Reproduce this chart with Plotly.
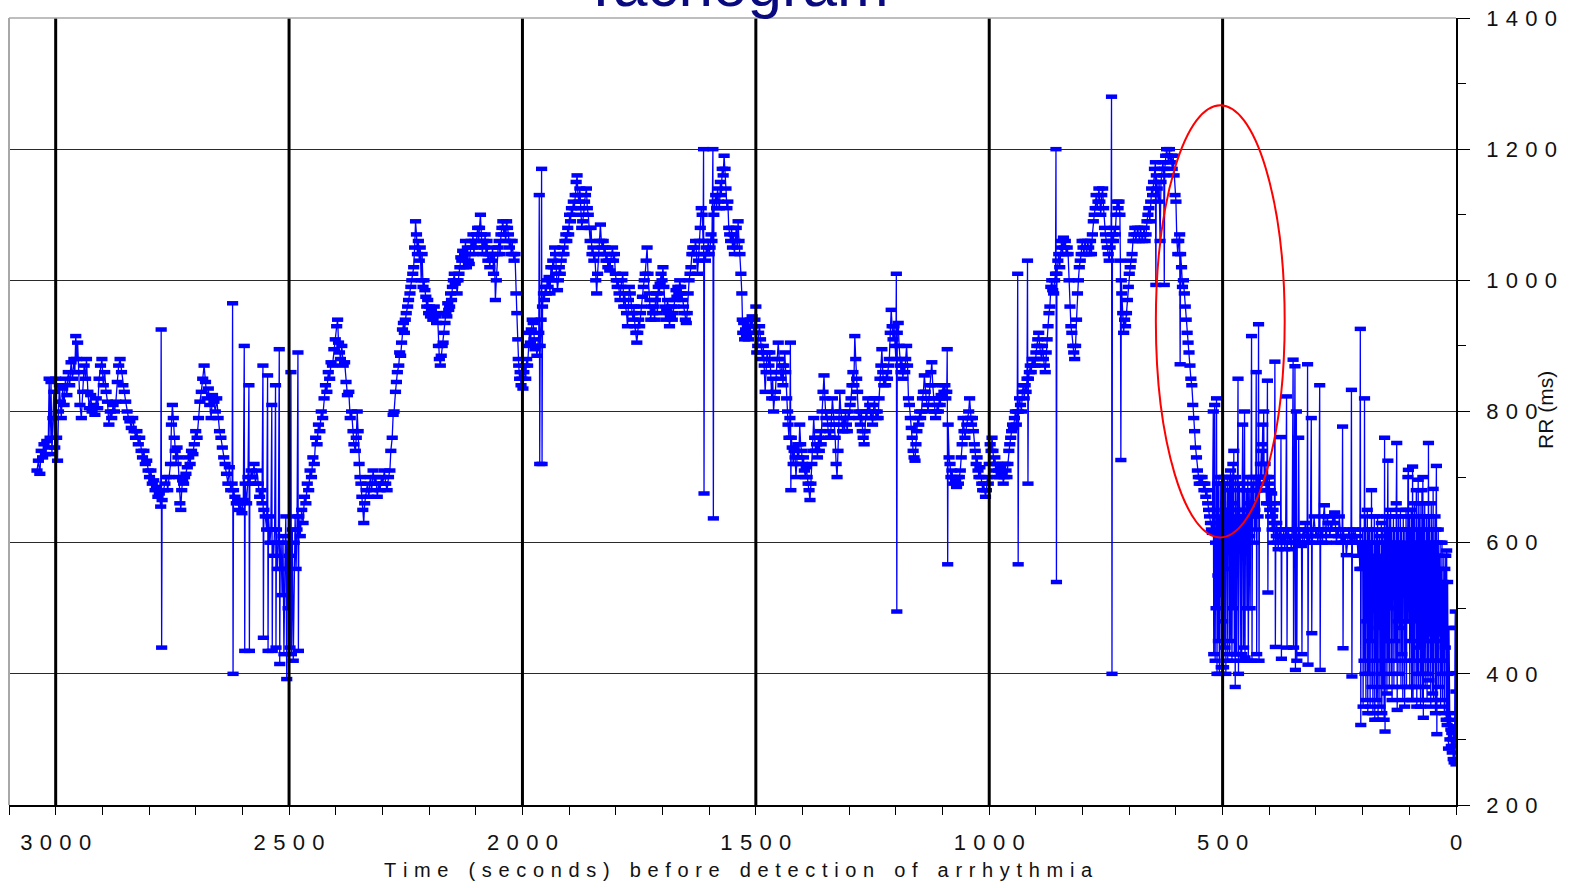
import plotly.graph_objects as go

# ---------------- data: (seconds before detection, RR interval in ms) ----------------
seg_3040_2500 = [
    (3040,710),(3037,725),(3034,705),(3031,740),(3028,730),(3025,750),(3022,735),(3019,755),(3016,745),
    (3014,850),(3012,760),(3010,845),(3008,735),(3006,790),(3004,830),(3002,745),(3000,850),(2998,760),
    (2996,725),(2994,800),(2992,840),(2990,815),(2988,790),(2985,835),(2982,810),(2979,850),(2976,825),
    (2973,860),(2970,840),(2967,875),(2964,850),(2961,880),(2959,860),(2957,915),(2955,880),(2953,905),
    (2951,860),(2948,810),(2945,790),(2942,830),(2939,870),(2936,850),(2934,880),(2931,830),(2928,805),
    (2925,825),(2922,800),(2919,810),(2916,795),(2913,820),(2910,805),(2907,850),(2904,870),(2901,880),
    (2898,840),(2895,860),(2892,830),(2889,815),(2886,780),(2883,800),(2880,790),(2877,810),(2874,800),
    (2871,815),(2868,845),(2865,870),(2862,880),(2859,860),(2856,840),(2853,830),(2850,815),(2847,800),
    (2844,790),(2841,785),(2838,775),(2835,790),(2832,770),(2829,760),(2826,770),(2823,750),(2820,760),
    (2817,740),(2814,730),(2811,740),(2808,720),(2805,725),(2802,710),(2799,700),(2796,710),(2793,690),
    (2790,695),(2787,680),(2784,685),(2781,670),(2778,675),(2775,655),(2774,925),(2773,440),(2772,665),
    (2769,680),(2766,690),(2763,700),(2760,680),(2757,700),(2754,720),(2752,780),(2750,810),(2748,790),
    (2746,760),(2744,740),(2742,720),(2740,745),(2738,730),(2736,700),(2734,660),(2732,650),(2730,680),
    (2728,695),(2726,690),(2724,700),(2721,705),(2718,715),(2715,730),(2712,720),(2709,740),(2706,735),
    (2703,750),(2700,770),(2697,760),(2694,790),(2691,815),(2688,830),(2685,850),(2682,870),(2679,845),
    (2676,820),(2673,835),(2670,810),(2667,790),(2664,825),(2661,815),(2658,800),(2655,820),(2652,790),
    (2649,770),(2646,760),(2643,745),(2640,730),(2637,720),(2634,705),(2631,690),(2628,715),(2625,680),
    (2622,690),(2621,965),(2620,400),(2619,680),(2616,670),(2613,660),(2610,665),(2607,650),(2604,660),
    (2601,645),(2598,665),(2596,900),(2595,435),(2594,690),(2591,660),(2588,700),(2586,840),(2585,435),
    (2584,690),(2581,710),(2578,700),(2575,720),(2572,690),(2569,710),(2566,690),(2563,670),(2560,680),
    (2558,660),(2556,870),(2555,455),(2554,650),(2551,640),(2548,620),(2546,855),(2545,435),(2544,640),
    (2541,600),(2539,620),(2537,810),(2536,435),(2535,600),(2533,580),(2531,620),(2529,840),(2528,440),
    (2527,620),(2525,560),(2523,600),(2521,895),(2520,415),(2519,560),(2517,600),(2515,520),(2513,610),
    (2511,430),(2509,560),(2507,640),(2505,392),(2504,600),(2502,500),
]
seg_2500_2000 = [
    (2500,580),(2498,440),(2496,860),(2495,430),(2493,620),(2491,420),(2489,600),(2487,640),(2485,560),
    (2483,620),(2481,890),(2480,435),(2479,640),(2476,610),(2473,650),(2470,630),(2467,670),(2464,660),
    (2461,690),(2458,680),(2455,710),(2452,700),(2449,730),(2446,720),(2443,760),(2440,750),(2437,780),
    (2434,770),(2431,800),(2428,790),(2425,820),(2422,840),(2419,830),(2416,860),(2413,850),(2410,875),
    (2407,870),(2404,895),(2401,910),(2398,930),(2396,940),(2394,905),(2392,890),(2390,880),(2387,900),
    (2384,870),(2381,875),(2378,845),(2375,825),(2372,830),(2369,790),(2366,800),(2363,770),(2361,750),
    (2358,740),(2356,760),(2354,800),(2352,770),(2350,720),(2348,700),(2346,690),(2344,670),(2342,650),
    (2340,630),(2338,660),(2335,680),(2332,690),(2329,670),(2326,700),(2323,680),(2320,710),(2317,690),
    (2314,700),(2311,670),(2308,690),(2305,680),(2302,700),(2299,690),(2296,710),(2293,690),(2290,680),
    (2287,700),(2284,710),(2282,740),(2279,760),(2277,795),(2275,800),(2272,830),(2270,845),(2268,860),
    (2265,870),(2263,890),(2261,885),(2259,905),(2257,925),(2255,935),(2253,920),(2251,940),(2249,950),
    (2246,960),(2244,970),(2241,980),(2239,990),(2237,1000),(2235,1010),(2233,1020),(2231,1050),(2229,1090),
    (2227,1070),(2225,1040),(2223,1060),(2221,1030),(2219,1050),(2217,1000),(2215,1040),(2213,990),(2211,1000),
    (2209,985),(2207,975),(2205,960),(2203,970),(2201,950),(2199,960),(2197,945),(2195,955),(2192,940),
    (2189,960),(2186,945),(2184,935),(2182,950),(2180,900),(2178,880),(2176,870),(2174,885),(2172,900),
    (2170,905),(2168,920),(2166,935),(2164,950),(2162,945),(2160,965),(2158,955),(2156,960),(2154,980),
    (2152,970),(2150,990),(2148,1000),(2146,1010),(2144,995),(2142,1000),(2140,980),(2138,1000),(2136,1010),
    (2134,1020),(2132,1035),(2130,1030),(2128,1045),(2126,1020),(2124,1040),(2122,1060),(2120,1020),(2118,1050),
    (2116,1030),(2114,1025),(2112,1040),(2110,1060),(2108,1050),(2106,1070),(2104,1040),(2102,1060),(2100,1050),
    (2098,1070),(2096,1080),(2094,1060),(2092,1080),(2090,1100),(2088,1070),(2086,1040),(2084,1060),(2082,1050),
    (2080,1070),(2078,1040),(2076,1060),(2074,1030),(2072,1040),(2070,1020),(2068,1040),(2066,1030),(2064,1050),
    (2062,1010),(2060,1040),(2058,970),(2056,1000),(2054,1040),(2052,1050),(2050,1060),(2048,1040),(2046,1070),
    (2044,1080),(2042,1090),(2040,1070),(2038,1080),(2036,1060),(2034,1090),(2032,1080),(2030,1070),(2028,1050),
    (2026,1060),(2024,1040),(2022,1060),(2020,1040),(2018,1030),(2016,1040),(2014,980),(2012,950),(2010,910),
    (2009,880),(2008,870),(2006,850),(2005,860),(2003,840),(2001,850),
]
seg_2000_1500 = [
    (1999,835),(1997,860),(1995,870),(1993,850),(1991,880),(1989,870),(1987,900),(1985,920),(1983,905),
    (1981,925),(1979,940),(1977,935),(1975,910),(1973,895),(1971,900),(1969,885),(1967,900),(1965,920),
    (1964,1130),(1963,720),(1962,900),(1960,940),(1959,1170),(1958,720),(1957,960),(1955,980),(1953,970),
    (1951,990),(1949,980),(1947,1000),(1945,990),(1943,1005),(1941,980),(1939,1020),(1937,1000),(1935,1030),
    (1933,1020),(1931,1050),(1929,1040),(1927,1010),(1925,985),(1923,1000),(1921,1020),(1919,1010),(1917,1030),
    (1915,1040),(1913,1050),(1911,1040),(1909,1060),(1907,1070),(1905,1060),(1903,1080),(1901,1070),(1899,1100),
    (1897,1090),(1895,1110),(1893,1100),(1891,1120),(1889,1110),(1887,1130),(1885,1150),(1883,1160),(1881,1130),
    (1879,1120),(1877,1140),(1875,1110),(1873,1080),(1871,1090),(1869,1100),(1867,1120),(1865,1130),(1863,1140),
    (1861,1110),(1859,1100),(1857,1080),(1855,1060),(1853,1080),(1851,1040),(1849,1050),(1847,1030),(1845,1040),
    (1843,1000),(1841,980),(1839,1010),(1837,1040),(1835,1060),(1833,1085),(1831,1060),(1829,1050),(1827,1060),
    (1825,1040),(1823,1050),(1821,1030),(1819,1040),(1817,1020),(1815,1030),(1813,1015),(1811,1030),(1809,1040),
    (1807,1050),(1805,1030),(1803,1040),(1801,1010),(1799,1000),(1797,990),(1795,1000),(1793,980),(1791,970),
    (1789,990),(1787,1000),(1785,1010),(1783,960),(1781,980),(1779,960),(1777,950),(1775,930),(1773,970),
    (1771,990),(1769,980),(1767,960),(1765,950),(1763,940),(1761,960),(1759,930),(1757,920),(1755,905),
    (1753,920),(1751,940),(1749,930),(1747,950),(1745,960),(1743,975),(1741,990),(1739,1000),(1737,1010),
    (1735,1030),(1733,1050),(1731,1010),(1729,980),(1727,970),(1725,940),(1723,960),(1721,950),(1719,960),
    (1717,940),(1715,970),(1713,980),(1711,950),(1709,990),(1707,980),(1705,995),(1703,1010),(1701,1000),
    (1699,1020),(1697,990),(1695,960),(1693,940),(1691,955),(1689,970),(1687,950),(1685,930),(1683,945),
    (1681,960),(1679,940),(1677,950),(1675,960),(1673,970),(1671,985),(1669,975),(1667,990),(1665,980),
    (1663,1000),(1661,990),(1659,980),(1657,970),(1655,960),(1653,950),(1651,940),(1649,935),(1647,950),
    (1645,980),(1643,1000),(1641,1010),(1639,1020),(1637,1040),(1635,1050),(1633,1040),(1631,1050),(1629,1060),
    (1627,1040),(1625,1010),(1623,1030),(1621,1060),(1619,1080),(1617,1110),(1615,1100),(1613,1060),(1612,1200),
    (1611,675),(1610,1040),(1608,1030),(1606,1050),(1604,1040),(1602,1060),(1600,1040),(1598,1050),(1596,1070),
    (1594,1060),(1592,1200),(1591,637),(1590,1100),(1588,1120),(1586,1130),(1584,1110),(1582,1140),(1580,1120),
    (1578,1110),(1576,1150),(1574,1130),(1572,1170),(1570,1160),(1568,1190),(1566,1170),(1564,1140),(1562,1110),
    (1560,1120),(1558,1080),(1556,1070),(1554,1060),(1552,1080),(1550,1050),(1548,1070),(1546,1040),(1544,1060),
    (1542,1080),(1540,1050),(1538,1090),(1536,1060),(1534,1040),(1532,1010),(1530,980),(1529,940),(1528,920),
    (1526,935),(1524,910),(1522,925),(1520,915),(1518,930),(1516,910),(1514,920),(1512,940),(1510,930),
    (1508,945),(1506,930),(1504,920),(1502,940),
]
seg_1500_1000 = [
    (1500,960),(1498,890),(1496,900),(1494,920),(1492,930),(1490,910),(1488,890),(1486,880),(1484,900),
    (1482,870),(1480,830),(1478,860),(1476,890),(1474,880),(1472,870),(1470,890),(1468,860),(1466,820),
    (1464,850),(1462,800),(1460,820),(1458,830),(1456,860),(1454,880),(1452,905),(1450,880),(1448,860),
    (1446,850),(1444,870),(1442,840),(1440,870),(1438,890),(1436,860),(1434,820),(1432,800),(1431,780),
    (1429,760),(1427,790),(1426,905),(1425,680),(1424,760),(1422,745),(1420,720),(1418,740),(1416,730),
    (1414,700),(1412,720),(1410,750),(1408,730),(1406,780),(1404,750),(1402,740),(1400,720),(1398,730),
    (1396,710),(1394,700),(1392,715),(1390,700),(1388,690),(1386,680),(1384,665),(1382,690),(1380,720),
    (1378,740),(1376,790),(1374,760),(1372,740),(1370,750),(1368,730),(1366,760),(1364,740),(1362,770),
    (1360,750),(1358,800),(1356,830),(1354,855),(1352,820),(1350,790),(1348,800),(1346,780),(1344,760),
    (1342,770),(1340,760),(1338,790),(1336,820),(1334,800),(1332,780),(1330,760),(1328,720),(1326,700),
    (1324,740),(1322,780),(1320,830),(1318,800),(1316,790),(1314,770),(1312,790),(1310,770),(1308,800),
    (1306,780),(1304,770),(1302,800),(1300,790),(1298,810),(1296,820),(1294,840),(1292,860),(1290,840),
    (1288,915),(1286,880),(1284,850),(1282,830),(1280,790),(1278,800),(1276,780),(1274,800),(1272,770),
    (1270,760),(1268,750),(1266,770),(1264,800),(1262,790),(1260,820),(1258,800),(1256,810),(1254,790),
    (1252,800),(1250,780),(1248,810),(1246,820),(1244,800),(1242,790),(1240,800),(1238,790),(1236,820),
    (1234,850),(1232,870),(1230,895),(1228,860),(1226,840),(1224,850),(1222,840),(1220,860),(1218,850),
    (1216,870),(1214,880),(1212,920),(1210,955),(1208,930),(1206,910),(1204,930),(1202,900),(1200,880),
    (1199,1010),(1198,495),(1197,920),(1195,935),(1193,900),(1191,870),(1189,860),(1187,880),(1185,850),
    (1183,870),(1181,860),(1179,880),(1177,900),(1175,870),(1173,820),(1171,810),(1169,790),(1167,775),
    (1165,760),(1163,740),(1161,730),(1159,725),(1157,750),(1155,770),(1153,790),(1151,780),(1149,800),
    (1147,790),(1145,800),(1143,820),(1141,830),(1139,855),(1137,830),(1135,820),(1133,810),(1131,800),
    (1129,820),(1127,840),(1125,860),(1123,875),(1121,840),(1119,820),(1117,800),(1115,790),(1113,800),
    (1111,810),(1109,800),(1107,820),(1105,810),(1103,825),(1101,820),(1099,840),(1097,830),(1095,840),
    (1093,820),(1091,830),(1090,895),(1089,567),(1088,780),(1086,730),(1084,720),(1082,700),(1080,710),
    (1078,700),(1076,690),(1074,700),(1072,695),(1070,685),(1068,700),(1066,690),(1064,700),(1062,710),
    (1060,730),(1058,750),(1056,790),(1054,770),(1052,760),(1050,770),(1048,780),(1046,790),(1044,800),
    (1042,820),(1040,790),(1038,780),(1036,790),(1034,770),(1032,750),(1030,740),(1028,720),(1026,730),
    (1024,710),(1022,700),(1020,715),(1018,700),(1016,690),(1014,680),(1012,690),(1010,680),(1008,670),
    (1006,680),(1004,700),(1002,690),
]
seg_1000_520 = [
    (1000,720),(998,750),(996,740),(994,760),(992,740),(990,720),(988,730),(986,710),(984,700),(982,720),
    (980,710),(978,700),(976,715),(974,705),(972,720),(970,690),(968,700),(966,720),(964,710),(962,700),
    (960,720),(958,740),(956,750),(954,760),(952,770),(950,780),(948,775),(946,790),(944,800),(942,780),
    (940,800),(939,1010),(938,567),(937,800),(935,820),(933,810),(931,800),(929,830),(927,840),(925,820),
    (923,840),(921,830),(919,850),(918,1030),(917,690),(916,850),(914,860),(912,870),(910,860),(908,880),
    (906,870),(904,880),(902,870),(900,890),(898,900),(896,910),(894,920),(892,900),(890,890),(888,880),
    (886,900),(884,880),(882,870),(880,860),(878,890),(876,910),(874,930),(872,950),(870,960),(868,990),
    (866,1000),(864,985),(862,980),(860,1000),(858,1010),(857,1200),(856,540),(855,1010),(853,1030),(851,1040),
    (849,1020),(847,1050),(845,1060),(843,1040),(841,1065),(839,1050),(837,1060),(835,1040),(833,1050),
    (831,1040),(829,1000),(827,960),(825,930),(823,920),(821,900),(819,890),(817,880),(815,900),(813,940),
    (811,980),(809,1000),(807,1020),(805,1030),(803,1040),(801,1060),(799,1050),(797,1040),(795,1060),
    (793,1050),(791,1040),(789,1060),(787,1050),(785,1040),(783,1060),(781,1040),(779,1070),(777,1090),
    (775,1100),(773,1110),(771,1130),(769,1110),(767,1120),(765,1140),(763,1120),(761,1100),(759,1130),
    (757,1140),(755,1110),(753,1080),(751,1070),(749,1060),(747,1050),(745,1040),(743,1030),(741,1050),
    (739,1060),(738,1280),(737,400),(736,1070),(734,1060),(732,1080),(730,1070),(728,1100),(726,1120),
    (724,1110),(722,1120),(720,1100),(719,1030),(718,726),(717,1000),(716,980),(714,950),(712,920),(710,940),
    (708,930),(706,950),(704,970),(702,990),(700,1010),(698,1020),(696,1030),(694,1040),(692,1060),(690,1070),
    (688,1080),(686,1060),(684,1070),(682,1080),(680,1070),(678,1060),(676,1080),(674,1070),(672,1060),
    (670,1070),(668,1080),(666,1060),(664,1070),(662,1090),(660,1100),(658,1110),(656,1090),(654,1120),
    (652,1140),(650,1130),(648,1150),(646,1170),(644,1180),(643,993),(642,1160),(640,1140),(638,1120),
    (636,1150),(634,1060),(632,1150),(630,1170),(628,1180),(626,1160),(625,993),(624,1170),(622,1190),
    (620,1200),(618,1190),(616,1180),(614,1200),(612,1180),(610,1190),(608,1170),(606,1190),(604,1160),
    (602,1130),(600,1120),(598,1060),(596,1040),(594,1060),(592,1070),(591,872),(590,1040),(588,1020),
    (586,990),(584,1000),(582,980),(580,960),(578,940),(576,920),(574,905),(572,890),(570,870),(568,850),
    (566,840),(564,810),(562,790),(560,770),(558,745),(556,730),(554,710),(552,700),(550,690),(548,700),
    (546,690),(544,700),(542,690),(540,680),(538,690),(536,670),(534,680),(532,660),(530,650),(528,640),
    (526,630),(524,620),(522,615),
]
seg_520_200 = [
    (520,800),(519,430),(518,650),(517,810),(516,420),(515,600),(514,500),(513,820),(512,400),(511,690),
    (510,550),(509,450),(508,700),(507,400),(506,640),(505,520),(504,690),(503,410),(502,600),(501,700),
    (500,480),(499,690),(498,410),(497,620),(496,700),(495,440),(494,690),(493,400),(492,650),(491,560),
    (490,700),(489,420),(488,680),(487,600),(486,700),(485,430),(484,650),(483,710),(482,450),(481,700),
    (480,420),(479,660),(478,720),(477,500),(476,740),(475,430),(474,640),(473,380),(472,700),(471,620),
    (470,430),(469,680),(467,850),(466,400),(465,650),(464,690),(462,600),(461,420),(460,640),(459,430),
    (458,690),(457,780),(456,650),(455,440),(454,620),(453,800),(452,425),(451,640),(450,600),(449,680),
    (448,500),(447,630),(446,700),(445,420),(444,650),(443,680),(442,610),(441,500),(440,660),(439,700),
    (438,915),(437,420),(436,660),(435,690),(434,640),(433,700),(432,600),(431,650),(430,620),(429,680),
    (428,860),(427,430),(426,700),(425,680),(424,640),(423,933),(422,420),(421,700),(420,680),(419,720),
    (418,700),(417,740),(416,700),(415,750),(414,780),(413,720),(412,800),(411,700),(410,690),(409,720),
    (408,680),(407,700),(406,660),(405,700),(404,847),(403,524),(402,690),(401,660),(400,700),(399,650),
    (398,680),(397,640),(396,660),(395,675),(394,620),(393,640),(392,650),(391,600),(390,630),(389,660),
    (388,876),(387,441),(386,620),(385,610),(384,630),(383,600),(382,620),(381,590),(380,610),(378,620),
    (376,600),(375,761),(374,423),(373,610),(371,600),(369,620),(367,590),(365,610),(363,823),(362,440),
    (361,600),(359,620),(357,600),(355,610),(353,590),(351,620),(349,879),(348,440),(347,600),(345,869),
    (344,406),(343,620),(342,800),(341,420),(340,610),(338,600),(337,760),(336,600),(335,620),(333,600),
    (331,595),(330,430),(329,610),(327,620),(325,600),(323,630),(321,610),(319,600),(318,872),(317,414),
    (316,620),(314,600),(312,610),(310,790),(309,462),(308,600),(306,620),(304,640),(302,620),(300,610),
    (298,620),(296,600),(294,620),(292,840),(291,406),(290,610),(288,620),(286,600),(284,640),(282,657),
    (280,620),(278,600),(276,640),(274,630),(272,620),(270,610),(268,630),(266,620),(264,640),(262,630),
    (260,646),(258,620),(256,600),(254,620),(252,610),(250,640),(248,620),(246,600),(244,610),(243,777),
    (242,439),(241,620),(239,600),(237,610),(235,581),(233,600),(231,610),(229,620),(227,600),(225,610),
    (224,833),(223,396),(222,600),(220,620),(218,600),(216,620),(214,600),(212,610),(210,580),(208,600),
    (206,560),(205,926),(204,322),(203,600),(201,560),
]
seg_200_0 = [
    (200,620),(199,350),(198,600),(197,420),(196,820),(195,400),(194,640),(193,360),(192,600),(191,480),
    (190,650),(189,340),(188,620),(187,400),(186,560),(185,620),(184,350),(183,600),(182,450),(181,680),
    (180,380),(179,620),(178,340),(177,580),(176,500),(175,640),(174,330),(173,600),(172,420),(171,620),
    (170,360),(169,560),(168,640),(167,330),(166,600),(165,470),(164,610),(163,350),(162,580),(161,400),
    (160,630),(159,340),(158,560),(157,620),(156,380),(155,600),(154,330),(153,760),(152,312),(151,620),
    (150,450),(149,640),(148,370),(147,600),(146,725),(145,420),(144,620),(143,380),(142,640),(141,500),
    (140,650),(139,400),(138,620),(137,360),(136,600),(135,560),(134,640),(133,380),(132,620),(131,450),
    (130,600),(129,420),(128,660),(127,752),(126,345),(125,620),(124,480),(123,640),(122,400),(121,600),
    (120,470),(119,650),(118,380),(117,620),(116,430),(115,600),(114,360),(113,640),(112,540),(111,620),
    (110,350),(109,595),(108,420),(107,650),(106,380),(105,620),(104,480),(103,700),(102,711),(101,480),
    (100,640),(99,380),(98,620),(97,450),(96,650),(95,360),(94,600),(93,716),(92,360),(91,640),
    (90,420),(89,660),(88,380),(87,600),(86,480),(85,680),(84,350),(83,620),(82,400),(81,696),
    (80,380),(79,640),(78,440),(77,660),(76,350),(75,620),(74,400),(73,680),(72,360),(71,700),
    (70,333),(69,640),(68,420),(67,660),(66,380),(65,600),(64,450),(63,640),(62,360),(61,620),
    (60,400),(59,752),(58,390),(57,640),(56,460),(55,600),(54,350),(53,660),(52,420),(51,620),
    (50,370),(49,682),(48,360),(47,600),(46,450),(45,640),(44,340),(43,620),(42,717),(41,308),
    (40,600),(39,420),(38,620),(37,380),(36,580),(35,460),(34,600),(33,350),(32,560),(31,400),
    (30,600),(29,360),(28,540),(27,420),(26,580),(25,340),(24,560),(23,440),(22,580),(21,330),
    (20,588),(19,322),(18,540),(17,400),(16,286),(15,470),(14,330),(13,300),(12,340),(11,315),
    (10,290),(9,310),(8,280),(7,300),(6,270),(5,320),(4,265),(3,290),(2,470),(1.5,495),
    (1,300),(0.5,401),(0.2,373),(0,262),
]

x_tick_values = [3000, 2500, 2000, 1500, 1000, 500, 0]
y_tick_values = [200, 400, 600, 800, 1000, 1200, 1400]
divider_times = [3000, 2500, 2000, 1500, 1000, 500]
highlight_box = dict(t_from=643, t_to=367, rr_from=608, rr_to=1267)

segments = [seg_3040_2500, seg_2500_2000, seg_2000_1500, seg_1500_1000,
            seg_1000_520, seg_520_200, seg_200_0]
time_s = [p[0] for s in segments for p in s]
rr_ms = [p[1] for s in segments for p in s]

SP = "\u2004"
def spaced_digits(v):
    return SP.join(str(v))

LS = "\u2004"
def spaced_words(text):
    return (LS * 3).join(LS.join(w) for w in text.split(" "))

FONT = "Liberation Sans, Arial, sans-serif"
BLUE = "#0000ff"

fig = go.Figure()
fig.add_trace(go.Scatter(
    x=time_s, y=rr_ms, mode="lines+markers",
    line=dict(color=BLUE, width=1.3),
    marker=dict(color=BLUE, size=8, symbol="line-ew", line=dict(color=BLUE, width=4.5)),
    showlegend=False, hoverinfo="x+y",
))

shapes = []
for t in divider_times:
    shapes.append(dict(type="line", xref="x", yref="paper", x0=t, x1=t, y0=0, y1=1,
                       line=dict(color="black", width=3), layer="above"))
# plot frame (grey top/left border)
shapes.append(dict(type="line", xref="paper", yref="paper", x0=0, x1=1, y0=1, y1=1,
                   line=dict(color="#a8a8a8", width=1.5), layer="above"))
shapes.append(dict(type="line", xref="paper", yref="paper", x0=0, x1=0, y0=0, y1=1,
                   line=dict(color="#a8a8a8", width=2), layer="above"))
shapes.append(dict(type="circle", xref="x", yref="y",
                   x0=highlight_box["t_from"], x1=highlight_box["t_to"],
                   y0=highlight_box["rr_from"], y1=highlight_box["rr_to"],
                   line=dict(color="#ff0000", width=2), layer="above"))

L, R, T, B = 9, 116, 18, 83
W, H = 1572, 888
pw, ph = W - L - R, H - T - B

annotations = [
    dict(text="Tachogram", xref="paper", yref="paper", x=(735 - L) / pw, y=(H - B - 21) / ph,
         xanchor="center", yanchor="bottom", showarrow=False,
         font=dict(family=FONT, size=62, color="#0a0a80")),
    dict(text=spaced_words("Time (seconds) before detection of arrhythmia"),
         xref="paper", yref="paper", x=(738 - L) / pw, y=-(870 - (H - B)) / ph,
         xanchor="center", yanchor="middle", showarrow=False,
         font=dict(family=FONT, size=20, color="#111111")),
    dict(text="RR (ms)", xref="paper", yref="paper", x=(1546 - L) / pw, y=0.502,
         xanchor="center", yanchor="middle", showarrow=False, textangle=-90,
         font=dict(family=FONT, size=21, color="#111111")),
]

fig.update_layout(
    width=W, height=H, autosize=False,
    margin=dict(l=L, r=R, t=T, b=B, pad=0, autoexpand=False),
    paper_bgcolor="white", plot_bgcolor="white",
    shapes=shapes, annotations=annotations,
    font=dict(family=FONT, color="#111111"),
)
fig.update_xaxes(
    range=[3100, 0], showgrid=False, zeroline=False, automargin=False,
    showline=True, linecolor="black", linewidth=1.5,
    tickmode="array", tickvals=x_tick_values,
    ticktext=[spaced_digits(v) for v in x_tick_values],
    ticks="outside", ticklen=8, tickwidth=1, tickcolor="black",
    minor=dict(dtick=100, ticks="outside", ticklen=8, tickcolor="black", tickwidth=1, showgrid=False),
    tickfont=dict(family=FONT, size=22, color="#111111"),
    ticklabelstandoff=9,
)
fig.update_yaxes(
    range=[200, 1400], side="right", zeroline=False, automargin=False,
    showgrid=True, gridcolor="#2a2a2a", gridwidth=1,
    showline=True, linecolor="black", linewidth=1.5,
    tickmode="array", tickvals=y_tick_values,
    ticktext=[spaced_digits(v) for v in y_tick_values],
    ticks="outside", ticklen=12, tickwidth=1, tickcolor="black",
    minor=dict(dtick=100, ticks="outside", ticklen=8, tickcolor="black", tickwidth=1, showgrid=False),
    tickfont=dict(family=FONT, size=22, color="#111111"),
    ticklabelstandoff=12,
)

fig.write_html("out.html", config={"displayModeBar": False},
               post_script="document.body.style.margin='0';")
